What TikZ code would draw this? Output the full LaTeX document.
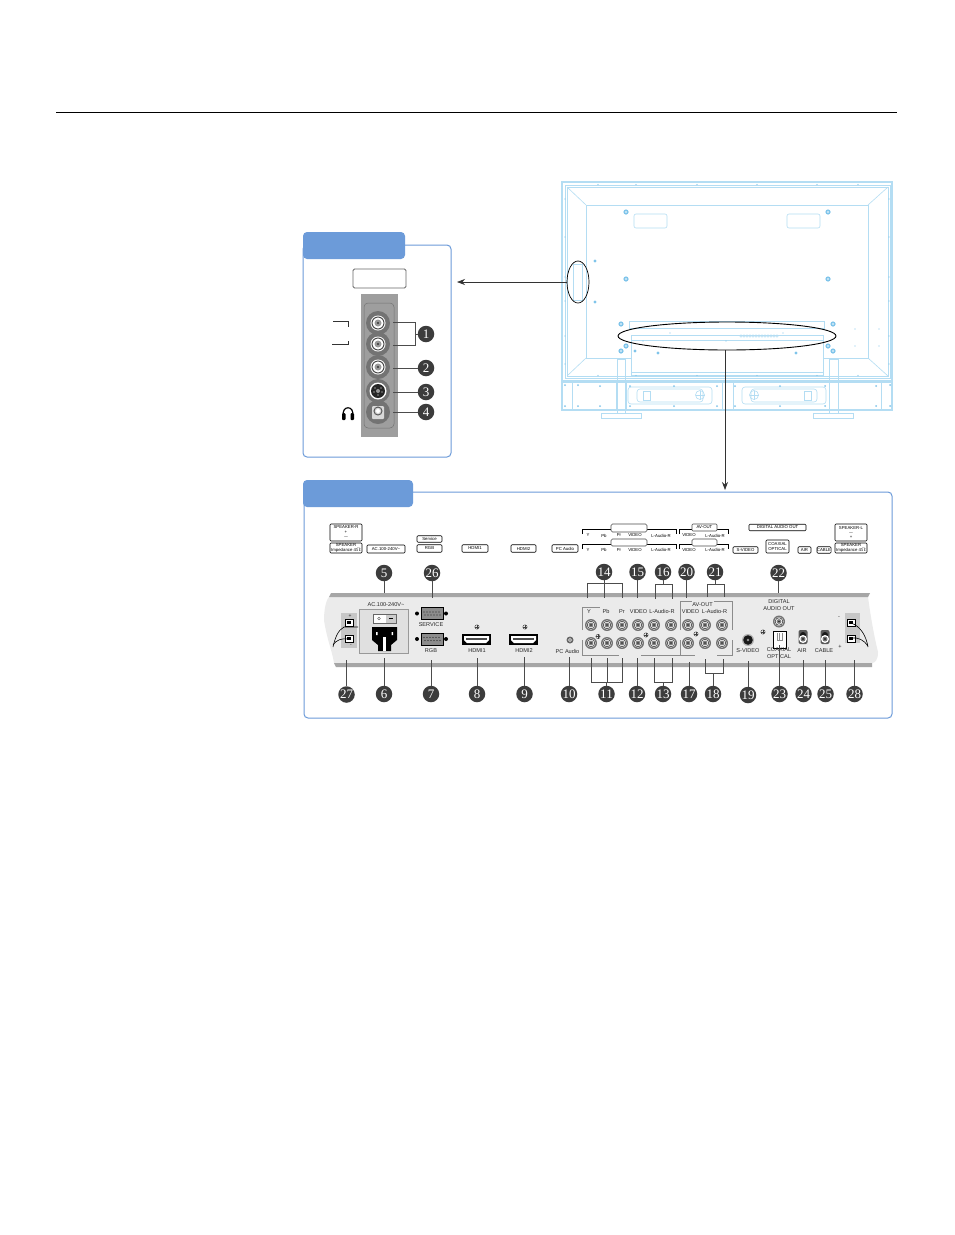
\documentclass[tikz,border=0pt]{standalone}
\usepackage{fontspec}
\setmainfont{Liberation Sans}
\newfontfamily\numfont{Liberation Serif}
\usetikzlibrary{arrows.meta}
\definecolor{tabblue}{HTML}{6C9BD9}
\definecolor{tvblue}{HTML}{B4DDF3}
\definecolor{tvdot}{HTML}{7FC4EA}
\definecolor{numdark}{HTML}{3C3C3C}
\newcommand{\tinyfont}{\fontsize{4.3}{4.8}\selectfont}
\newcommand{\panelfont}{\fontsize{5.6}{7}\selectfont}
\newcommand{\rcajack}[2]{%
  \fill[black!55] (#1,#2) circle[radius=6pt];
  \fill[white] (#1,#2) circle[radius=4.6pt];
  \draw[black!70,line width=.7pt] (#1,#2) circle[radius=3.8pt];
  \fill[black!50] (#1,#2) circle[radius=2.4pt];
  \fill[black!85] (#1,#2) circle[radius=.9pt];}
\newcommand{\sidejack}[2]{%
  \fill[black!55] (#1,#2) circle[radius=12pt];
  \fill[white] (#1,#2) circle[radius=7.5pt];
  \draw[black!70,line width=1pt] (#1,#2) circle[radius=6pt];
  \fill[black!40] (#1,#2) circle[radius=3.5pt];
  \fill[black!80] (#1,#2) circle[radius=1.2pt];}
\newcommand{\crossmark}[2]{%
  \draw[black!75,line width=.35pt] (#1,#2) circle[radius=2.2pt];
  \draw[black!75,line width=.3pt] (#1-2.2,#2) -- (#1+2.2,#2) (#1,#2-2.2) -- (#1,#2+2.2);}
\tikzset{
  x=1pt,y=-1pt,
  num/.style={circle,fill=numdark,text=white,inner sep=0pt,minimum size=16.5pt,font=\numfont\fontsize{13}{13}\selectfont},
  conn/.style={draw=black!70,line width=1pt},
  lbl/.style={draw=black,line width=.6pt,rounded corners=1pt,fill=white,inner sep=0pt,align=center,font=\tinyfont},
  emptybox/.style={draw=black!70,line width=.6pt,rounded corners=1.5pt,fill=white,inner sep=0pt},
  tiny/.style={inner sep=0pt,font=\tinyfont},
  paneltext/.style={inner sep=0pt,align=center,font=\panelfont,text=black!85},
  tv/.style={draw=tvblue,line width=.6pt},
  tvthick/.style={draw=tvblue,line width=1.1pt},
  tab/.style={fill=tabblue,rounded corners=4pt},
  framebox/.style={draw=tabblue,line width=1pt,rounded corners=4pt,fill=white},
  ring/.style={draw=black,line width=.7pt},
  arrowline/.style={draw=black!80,line width=.7pt,-{Stealth[length=8pt,width=6pt]}}
}
\begin{document}
\begin{tikzpicture}
\useasboundingbox[fill=white] (0,0) rectangle (954,1235);
% header rule
\coordinate (ruleL) at (56,112.5); \coordinate (ruleR) at (897,112.5);
\draw[black,line width=.8pt] (ruleL) -- (ruleR);

% ---------- TV rear ----------
\draw[tvthick] (562,182) rectangle (892,381);
\draw[tv] (565,185) rectangle (890,378);
\draw[tv] (567,187) rectangle (888,376);
\draw[tv] (586,205) -- (868,205) -- (868,358) -- (586,358) -- cycle;
\draw[tv] (567,187) -- (586,205) (888,187) -- (868,205) (567,376) -- (586,358) (888,376) -- (868,358);
\draw[tv,rounded corners=2pt] (634,214) rectangle (667,228);
\draw[tv,rounded corners=2pt] (787,214) rectangle (820,228);
\draw[tv] (573,264) rectangle (582,300);
\draw[tv,fill=white] (629,321) rectangle (824,328);
\draw[tv,fill=white] (631,335) rectangle (823,375);
\draw[tv] (631,340) -- (823,340) (631,372) -- (823,372);
\foreach \x in {741,744,747,750,753,756,759,762,765,768,771,774,777} \draw[tv] (\x,336) circle[radius=1.2pt];
\foreach \x/\y in {626/212,828/212,626/279,828/279,621/324,833/324,621/351,833/351,626/346,828/346}
  {\fill[tvdot] (\x,\y) circle[radius=2.6pt]; \fill[white] (\x,\y) circle[radius=.9pt];}
\foreach \x/\y in {595/261,595/302,635/351,658/353,796/353}
  \fill[tvdot] (\x,\y) circle[radius=1.7pt];
\foreach \x/\y in {670/333,783/333,643/341,726/341,855/329,879/329,855/346,879/346}
  \fill[tvdot] (\x,\y) circle[radius=.6pt];
\foreach \x in {598,636,697,757,817,858}
  {\fill[tvdot] (\x,184.5) circle[radius=.7pt]; \fill[tvdot] (\x,375.5) circle[radius=.7pt];}
\foreach \y in {199,237,277,301,336,364}
  {\fill[tvdot] (565,\y) circle[radius=.7pt]; \fill[tvdot] (889,\y) circle[radius=.7pt];}
% lower band
\draw[tvthick] (562,382) rectangle (892,410);
\foreach \x in {572,616,626,722,733,829,838,881} \draw[tv] (\x,382) -- (\x,410);
\draw[tv] (617,359) rectangle (625,413);
\draw[tv] (829,359) rectangle (838,413);
\draw[tv,fill=white] (601,413) rectangle (641,418);
\draw[tv,fill=white] (813,413) rectangle (853,418);
\draw[tv,rounded corners=3pt] (628,387) rectangle (712,404);
\draw[tv,rounded corners=3pt] (637,389) rectangle (703,402);
\draw[tv,rounded corners=3pt] (742,387) rectangle (826,404);
\draw[tv,rounded corners=3pt] (751,389) rectangle (817,402);
\draw[tv] (643,391) rectangle (650,400);
\draw[tv] (804,391) rectangle (811,400);
\foreach \x in {700,754}
  {\draw[tv] (\x,395) circle[radius=4.5pt]; \draw[tv] (\x-4.5,395) -- (\x+4.5,395) (\x,390.5) -- (\x,399.5);}
\foreach \x/\y in {565/385,565/406,578/385,578/406,600/386,600/406,630/386,630/406,674/386,674/406,717/386,717/406,735/386,735/406,780/386,780/406,825/386,825/406,876/386,876/406,890/385,890/406}
  \fill[tvdot] (\x,\y) circle[radius=1pt];
% ellipses on TV
\draw[ring] (578,282) ellipse[x radius=11pt,y radius=21pt];
\draw[ring,line width=.9pt] (727,336) ellipse[x radius=109pt,y radius=14pt];
\coordinate (sideEll) at (567,282);
\coordinate (botEll) at (725,350);

% ---------- side panel ----------
\draw[framebox] (303,245) rectangle (451,457);
\fill[tab] (303,232) rectangle (405,259);
\coordinate (sideFrame) at (457,282);
\node[emptybox,draw=black!60,line width=.9pt,minimum width=53pt,minimum height=19pt] (sideLabel) at (379.5,278.5) {};
\fill[black!38] (361,294) rectangle (398,437);
\draw[black!55,line width=.5pt,rounded corners=4pt] (364,303) rectangle (394,428);
\sidejack{378}{323}
\sidejack{378}{344}
\sidejack{378}{367}
% s-video
\fill[black!55] (378,391) circle[radius=12pt];
\fill[white] (378,391) circle[radius=8.5pt];
\fill[black!85] (378,391) circle[radius=7pt];
\fill[black!40] (378,391) circle[radius=2pt];
\foreach \dx/\dy in {-3/-3,3/-3,-4/1,4/1,0/4} \fill[white] (378+\dx,391+\dy) circle[radius=.6pt];
% headphone jack
\fill[black!55] (378,412) circle[radius=12pt];
\fill[black!15,rounded corners=1pt] (372,406) rectangle (384,419);
\draw[black!65,line width=1pt] (378,411) circle[radius=4pt];
\fill[white] (378,411) circle[radius=2pt];
% side left brackets
\coordinate (brA) at (333,321); \coordinate (brB) at (348,321); \coordinate (brC) at (348,327);
\coordinate (brD) at (332,344); \coordinate (brE) at (348,344); \coordinate (brF) at (348,341);
\draw[black!80,line width=.6pt] (brA) -- (brB) -- (brC) (brD) -- (brE) -- (brF);
% headphones
\draw[black,line width=1.2pt] (343.5,416) .. controls (341,405) and (355,405) .. (352.5,416);
\fill[black,rounded corners=1pt] (342,413) rectangle (345.5,420);
\fill[black,rounded corners=1pt] (350.5,413) rectangle (354,420);
% side numbers
\foreach \n/\t/\x/\y in {s1/1/426/334,s2/2/426/368,s3/3/426/392,s4/4/426/412}
  \node[num] (\n) at (\x,\y) {\t};
\coordinate (s1a) at (393,322); \coordinate (s1r) at (415,322);
\coordinate (s1b) at (393,345); \coordinate (s1q) at (415,345);
\draw[conn] (s1a) -- (s1r) -- (s1q) -- (s1b);
\coordinate (s1m) at (415,334);
\draw[conn] (s1m) -- (s1);
\foreach \n/\y in {s2/368,s3/392,s4/412}
  {\coordinate (e\n) at (393,\y); \draw[conn] (\n) -- (e\n);}

% ---------- arrows ----------
\draw[arrowline] (sideEll) -- (sideFrame);

% ---------- lower box ----------
\draw[framebox] (304,492) rectangle (892,718);
\fill[tab] (303,480) rectangle (413,507);
\coordinate (lowFrame) at (725,490);
\draw[arrowline] (botEll) -- (lowFrame);

% panel
\fill[black!8] (329,597) -- (868,597) .. controls (871,620) and (875,640) .. (878,652) .. controls (878,660) and (875,663) .. (872,663) -- (334,663) .. controls (332,650) and (327,640) .. (324,620) .. controls (324,610) and (326,600) .. cycle;
\fill[black!35] (329,597) -- (868,597) -- (870,593) -- (331,593) -- cycle;
\fill[black!35] (334,663) -- (872,663) -- (872,667) -- (336,667) -- cycle;

% top label row
\node[lbl,minimum width=32pt,minimum height=17pt] (spkR) at (346,532.5) {SPEAKER-R\\+\\$-$};
\node[lbl,minimum width=32pt,minimum height=10pt] (spkRi) at (346,548) {SPEAKER\\Impedance 4$\Omega$};
\node[lbl,minimum width=38pt,minimum height=8pt] (lblAC) at (386,549) {AC.100-240V\textasciitilde};
\node[lbl,minimum width=25pt,minimum height=6.5pt] (lblSv) at (429.5,539) {Service};
\node[lbl,minimum width=25pt,minimum height=7.5pt] (lblRGB) at (429.5,548.5) {RGB};
\node[lbl,minimum width=26pt,minimum height=7.5pt] (lblH1) at (475,548.5) {HDMI1};
\node[lbl,minimum width=25pt,minimum height=7.5pt] (lblH2) at (523.5,548.5) {HDMI2};
\node[lbl,minimum width=26pt,minimum height=7.5pt] (lblPC) at (565,548.5) {PC Audio};
\node[lbl,minimum width=25pt,minimum height=6.5pt] (lblSV) at (745.5,550) {S-VIDEO};
\node[lbl,minimum width=23pt,minimum height=13pt] (lblCO) at (777.5,546.5) {COAXIAL\\OPTICAL};
\node[lbl,minimum width=13pt,minimum height=6.5pt] (lblAIR) at (804.5,550) {AIR};
\node[lbl,minimum width=14pt,minimum height=6.5pt] (lblCB) at (824,550) {CABLE};
\node[lbl,minimum width=57pt,minimum height=6.5pt] (lblDG) at (777.5,527.5) {DIGITAL AUDIO OUT};
\node[lbl,minimum width=32pt,minimum height=17pt] (spkL) at (851,532.5) {SPEAKER-L\\$-$\\+};
\node[lbl,minimum width=32pt,minimum height=10pt] (spkLi) at (851,548) {SPEAKER\\Impedance 4$\Omega$};

% component brackets in label row
\draw[black,line width=.7pt] (582.5,534) -- (582.5,529) -- (676,529) -- (676,534);
\draw[black,line width=.7pt] (582.5,549) -- (582.5,544) -- (676,544) -- (676,549);
\draw[black,line width=.7pt] (679.5,534) -- (679.5,529) -- (728,529) -- (728,534);
\draw[black,line width=.7pt] (679.5,549) -- (679.5,544) -- (728,544) -- (728,549);
\node[emptybox,minimum width=36pt,minimum height=8pt] (bxA) at (629,528) {};
\node[emptybox,minimum width=36pt,minimum height=7pt] (bxB) at (629,542.5) {};
\node[lbl,draw=black!70,minimum width=25pt,minimum height=7pt] (bxC) at (704.5,527.5) {AV-OUT};
\node[emptybox,minimum width=25pt,minimum height=7pt] (bxD) at (704.5,542.5) {};
\foreach \y in {535.5,550}{
  \foreach \x/\t in {588/Y,604/Pb,619/Pr,635/VIDEO,661/L-Audio-R,689/VIDEO,715/L-Audio-R}
    \node[tiny] at (\x,\y) {\t};
}

% AC block
\node[paneltext] (acT) at (386,604.5) {AC.100-240V\textasciitilde};
\draw[black!40,fill=black!12,line width=.7pt] (359,609) rectangle (408,653);
\draw[black!60,fill=white,line width=.5pt] (373,614) rectangle (396,623);
\fill[black!20] (386,614.5) rectangle (395.5,622.5);
\draw[black!70,line width=.4pt] (379,618.5) circle[radius=1.3pt];
\draw[black,line width=.5pt] (389,618.5) -- (393,618.5);
\fill[black] (372,627) -- (397,627) -- (397,640) -- (391,645) -- (391,651) -- (378,651) -- (378,645) -- (372,640) -- cycle;
\fill[white] (383,637) rectangle (386,651);
\fill[white] (376,632) rectangle (377.5,635) (391.5,632) rectangle (393,635);

% D-sub connectors
\foreach \yc/\t in {613.5/SERVICE,639/RGB}{
  \fill[black] (417,\yc) circle[radius=2pt];
  \fill[black] (446,\yc) circle[radius=2pt];
  \draw[black,line width=.8pt,fill=black!45] (421,\yc-6) rectangle (443,\yc+6);
  \foreach \x in {424,427,430,433,436,439} \fill[black!85] (\x,\yc-1.5) circle[radius=.6pt];
  \foreach \x in {425,428,431,434,437,440} \fill[black!85] (\x,\yc+1.5) circle[radius=.6pt];
}
\node[paneltext] (tSv) at (431,624.5) {SERVICE};
\node[paneltext] (tRGB) at (431,651) {RGB};

% HDMI
\foreach \xl in {462,509}{
  \fill[black] (\xl,634) rectangle (\xl+29,645);
  \fill[white] (\xl+2,636) -- (\xl+27,636) -- (\xl+27,640) -- (\xl+24,643) -- (\xl+5,643) -- (\xl+2,640) -- cycle;
  \fill[black!70] (\xl+4,638) rectangle (\xl+25,640);
}
\crossmark{477}{627}
\crossmark{525}{627}
\node[paneltext] (tH1) at (477,651) {HDMI1};
\node[paneltext] (tH2) at (524,651) {HDMI2};
% PC audio
\fill[black!60] (570,640) circle[radius=3.5pt];
\fill[white] (570,640) circle[radius=1.8pt];
\fill[black!70] (570,640) circle[radius=.8pt];
\node[paneltext] (tPC) at (567.5,651) {PC Audio};

% AV jack bank
\foreach \x in {591,607,622,638,654,671,688,705,722}{
  \rcajack{\x}{625}
  \rcajack{\x}{643}
}
\crossmark{598}{636.5}
\crossmark{646}{635}
\crossmark{696}{634}
\crossmark{763}{632}
\node[paneltext] (tY) at (589,611.5) {Y};
\node[paneltext] (tPb) at (606,611.5) {Pb};
\node[paneltext] (tPr) at (622,611.5) {Pr};
\node[paneltext] (tV1) at (638.5,611.5) {VIDEO};
\node[paneltext] (tA1) at (662,611.5) {L-Audio-R};
\node[paneltext] (tV2) at (690.5,611.5) {VIDEO};
\node[paneltext] (tA2) at (714.5,611.5) {L-Audio-R};
\node[paneltext] (tAV) at (702.5,605) {AV-OUT};
\draw[black!45,line width=.5pt] (582.5,630) -- (582.5,607) -- (600,607)
  (680,630) -- (680,601) -- (692,601)
  (714,601) -- (732,601) -- (732,630)
  (582.5,640) -- (582.5,655) -- (619,655)
  (641,655) -- (695,655)
  (680,640) -- (680,655)
  (717,655) -- (732,655) -- (732,640);

% S-video, digital, antennas
\fill[black!30] (748,640) circle[radius=6pt];
\fill[black!90] (748,640) circle[radius=4.8pt];
\fill[black!40] (748,640) circle[radius=1.3pt];
\node[paneltext] (tSV) at (748,650.5) {S-VIDEO};
\node[paneltext] (tDA) at (779,605.5) {DIGITAL\\AUDIO OUT};
\rcajack{779}{621.5}
\draw[black,line width=.8pt,fill=white] (773,631) rectangle (786,648);
\draw[black!45,line width=.5pt] (777,633) -- (777,640) -- (782,640) -- (782,633) (779.5,633) -- (779.5,640);
\node[paneltext] (tCO) at (779,653.5) {COAXIAL\\OPTICAL};
\foreach \x in {803,825}{
  \fill[black!65,rounded corners=2pt] (\x-4.5,630) rectangle (\x+4.5,644);
  \fill[black!90] (\x,635) circle[radius=3pt];
  \fill[white] (\x,639) circle[radius=4pt];
  \fill[black!55] (\x,639) circle[radius=2.5pt];
  \fill[black] (\x,639) circle[radius=.9pt];
}
\node[paneltext] (tAIR) at (802,651) {AIR};
\node[paneltext] (tCAB) at (824,651) {CABLE};

% speaker terminals left
\fill[black!22] (341,613) rectangle (357,648);
\foreach \y in {623,639}{
  \draw[black,line width=.5pt,fill=white] (345,\y-3.5) rectangle (353,\y+3.5);
  \fill[black] (347,\y-2) rectangle (351,\y+1);
}
\node[paneltext,font=\fontsize{5}{5}\selectfont] (lPlus) at (350,616) {+};
\node[paneltext,font=\fontsize{5}{5}\selectfont] (lMinus) at (351,646) {-};
\draw[black,line width=.6pt] (358,627) -- (344,627) .. controls (338,630) and (335,638) .. (333,647);
\draw[black,line width=.6pt] (348,639) .. controls (342,638) and (336,640) .. (333,645);
% speaker terminals right
\fill[black!22] (845,613) rectangle (860,643);
\foreach \y in {623,639}{
  \draw[black,line width=.5pt,fill=white] (847,\y-3.5) rectangle (855,\y+3.5);
  \fill[black] (849,\y-2) rectangle (853,\y+1);
}
\node[paneltext] (rMinus) at (839,618) {-};
\node[paneltext] (rPlus) at (840,647) {+};
\draw[black,line width=.6pt] (851,623) .. controls (860,626) and (866,635) .. (868,647);
\draw[black,line width=.6pt] (851,638) .. controls (858,637) and (864,640) .. (868,646);

% ---------- numbers ----------
\foreach \t/\x/\y in {5/384/573,26/432/573,14/604/572,15/637.5/572,16/663/572,20/686.5/572,21/715/572,22/778.5/573,
  27/346.5/694.5,6/384/694,7/431/694,8/477/694,9/524.5/694,10/569/694,11/606.5/694,12/637/694,13/663/694,17/689/694,18/713/694,19/748/695,23/779.5/694,24/803.5/694,25/825.5/694,28/854.5/694}
  \node[num] (n\t) at (\x,\y) {\t};
% single leaders
\foreach \t/\y in {5/593,26/598,15/598,20/598,22/593,
  27/660,6/658,7/660,8/658,9/657,10/657,12/658,17/662,19/661,23/645,24/660,25/660,28/660}
  {\coordinate (e\t) at (n\t |- 0,\y); \draw[conn] (n\t) -- (e\t);}
% brackets above
\coordinate (r14l) at (587,583); \coordinate (r14r) at (622,583);
\coordinate (e14l) at (587,598); \coordinate (e14m) at (604,598); \coordinate (e14r) at (622,598);
\draw[conn] (e14l) -- (r14l) -- (r14r) -- (e14r) (n14) -- (e14m);
\coordinate (r16l) at (655,584); \coordinate (r16r) at (672,584);
\coordinate (e16l) at (655,599); \coordinate (e16r) at (672,599);
\draw[conn] (e16l) -- (r16l) -- (r16r) -- (e16r);
\draw[conn] (n16) -- (n16 |- r16l);
\coordinate (r21l) at (707,584); \coordinate (r21r) at (724,584);
\coordinate (e21l) at (707,597); \coordinate (e21r) at (724,597);
\draw[conn] (e21l) -- (r21l) -- (r21r) -- (e21r);
\draw[conn] (n21) -- (n21 |- r21l);
% brackets below
\coordinate (r11l) at (591,682); \coordinate (r11m) at (607,682); \coordinate (r11r) at (622,682);
\coordinate (e11l) at (591,658); \coordinate (e11m) at (607,658); \coordinate (e11r) at (622,658);
\draw[conn] (e11l) -- (r11l) -- (r11r) -- (e11r) (e11m) -- (r11m);
\draw[conn] (n11) -- (n11 |- r11l);
\coordinate (r13l) at (654,682); \coordinate (r13r) at (672,682);
\coordinate (e13l) at (654,658); \coordinate (e13r) at (672,658);
\draw[conn] (e13l) -- (r13l) -- (r13r) -- (e13r);
\draw[conn] (n13) -- (n13 |- r13l);
\coordinate (r18l) at (705,673); \coordinate (r18r) at (723,673);
\coordinate (e18l) at (705,659); \coordinate (e18r) at (723,659);
\draw[conn] (e18l) -- (r18l) -- (r18r) -- (e18r);
\draw[conn] (n18) -- (n18 |- r18l);
\end{tikzpicture}
\end{document}
